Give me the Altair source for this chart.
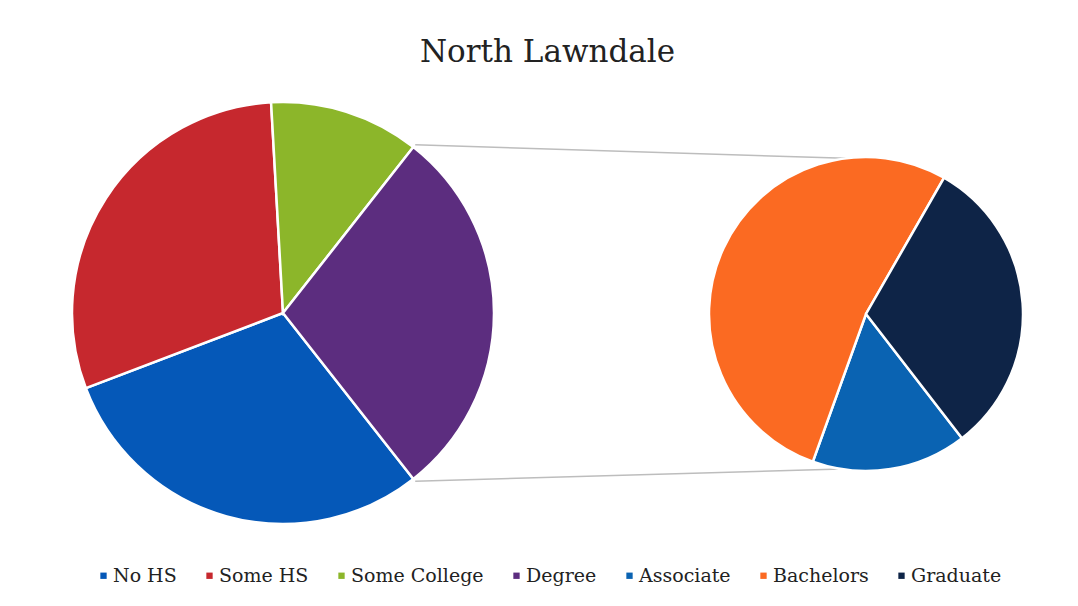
import math
import altair as alt
import pandas as pd

# ---- data ----
main_cats = ["No HS", "Some HS", "Some College", "Degree"]
main_vals = [29.8, 29.9, 11.5, 28.8]
sub_cats = ["Associate", "Bachelors", "Graduate"]
sub_vals = [4.6, 15.2, 9.0]
all_cats = main_cats + sub_cats
colors = ["#0558B8", "#C6282E", "#8CB62A", "#5C2D7F", "#0A63B2", "#FB6A22", "#0E2447"]
title_text = "North Lawndale"

# ---- layout ----
W, H = 1060, 588
L_CX, L_CY, L_R = 275, 305, 211
R_CX, R_CY, R_R = 858, 306, 157
TAU = 2 * math.pi

total = sum(main_vals)
deg_frac = main_vals[-1] / total
main_start = math.pi / 2 + deg_frac * math.pi   # "Degree" slice centred at 3 o'clock
sub_start = math.radians(142.3)

main_df = pd.DataFrame({"category": main_cats, "value": main_vals, "idx": range(len(main_cats))})
sub_df = pd.DataFrame({"category": sub_cats, "value": sub_vals, "idx": range(len(sub_cats))})

color_scale = alt.Scale(domain=all_cats, range=colors)
legend = alt.Legend(
    title=None, orient="none", direction="horizontal", legendX=86, legendY=558,
    symbolType="square", symbolSize=40, symbolStrokeWidth=0, labelFont="DejaVu Serif",
    labelFontSize=19, labelColor="#222222", columnPadding=23, labelOffset=0,
    columns=7, labelLimit=300,
)

main_pie = alt.Chart(main_df).mark_arc(
    outerRadius=L_R, stroke="white", strokeWidth=2.5
).encode(
    theta=alt.Theta("value:Q", stack=True, scale=alt.Scale(range=[main_start, main_start + TAU])),
    order=alt.Order("idx:Q"),
    color=alt.Color("category:N", scale=color_scale, legend=legend, sort=all_cats),
    x=alt.value(L_CX), y=alt.value(L_CY),
)

sub_pie = alt.Chart(sub_df).mark_arc(
    outerRadius=R_R, stroke="white", strokeWidth=2.5
).encode(
    theta=alt.Theta("value:Q", stack=True, scale=alt.Scale(range=[sub_start, sub_start + TAU])),
    order=alt.Order("idx:Q"),
    color=alt.Color("category:N", scale=color_scale, legend=legend, sort=all_cats),
    x=alt.value(R_CX), y=alt.value(R_CY),
)

# connector lines from the edges of the "Degree" slice to the secondary pie
a_top = main_start + (total - main_vals[-1]) / total * TAU
a_bot = main_start
def pt(cx, cy, r, a):
    return cx + r * math.sin(a), cy - r * math.cos(a)
p1 = pt(L_CX, L_CY, L_R + 3, a_top)
p2 = pt(R_CX, R_CY, R_R, math.radians(-7.5))
p3 = pt(L_CX, L_CY, L_R + 3, a_bot)
p4 = pt(R_CX, R_CY, R_R, math.radians(189))
lines_df = pd.DataFrame({
    "x": [p1[0], p3[0]], "y": [p1[1], p3[1]],
    "x2": [p2[0], p4[0]], "y2": [p2[1], p4[1]],
})
connectors = alt.Chart(lines_df).mark_rule(color="#BDBDBD", strokeWidth=1.5).encode(
    x=alt.X("x:Q", scale=None), y=alt.Y("y:Q", scale=None),
    x2="x2:Q", y2="y2:Q",
)

title = alt.Chart(pd.DataFrame({"t": [title_text]})).mark_text(
    font="DejaVu Serif", fontSize=31, color="#222222", align="center", baseline="alphabetic"
).encode(text="t:N", x=alt.value(539.5), y=alt.value(54))

chart = alt.layer(connectors, main_pie, sub_pie, title).resolve_scale(
    theta="independent"
).properties(
    width=W, height=H, padding=0,
    autosize=alt.AutoSizeParams(type="fit", contains="padding"),
    background="white",
).configure_view(stroke=None)

chart.save("out.html", embed_options={"renderer": "svg", "actions": False})
